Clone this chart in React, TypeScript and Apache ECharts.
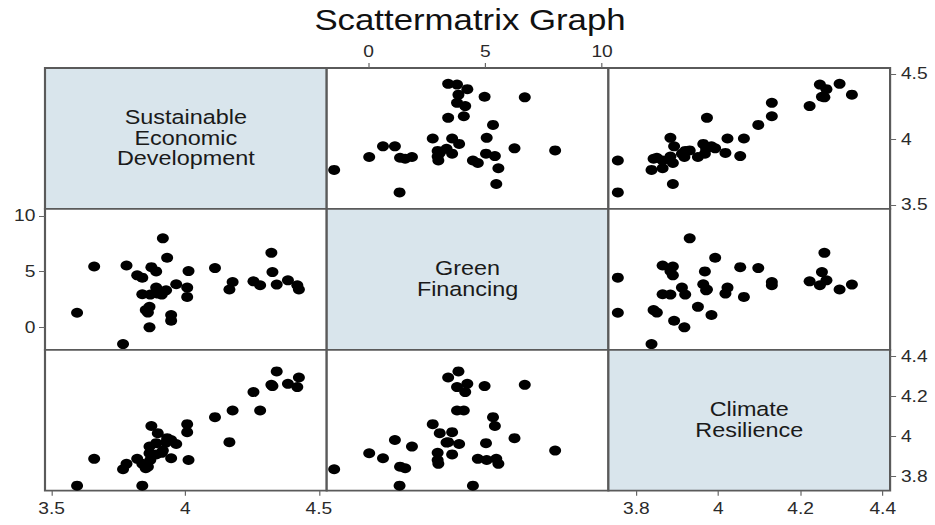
import React, { useEffect, useRef } from "react";
import * as echarts from "echarts";

// Observations (parallel lists)
const SED = [3.595, 3.659, 3.767, 3.780, 3.820, 3.839, 3.839, 3.852, 3.860, 3.866, 3.866, 3.873, 3.869, 3.891, 3.891, 3.897, 3.916, 3.932, 3.912, 3.928, 3.947, 3.947, 3.966, 4.007, 4.007, 4.012, 4.111, 4.165, 4.177, 4.255, 4.280, 4.322, 4.326, 4.342, 4.384, 4.419, 4.425];
const GF = [1.33, 5.47, -1.47, 5.56, 4.68, 4.47, 2.99, 1.57, 1.35, 1.86, 0.03, 5.41, 2.96, 5.03, 3.58, 3.05, 7.99, 6.25, 2.96, 3.34, 1.13, 0.62, 3.88, 3.58, 2.75, 5.06, 5.33, 3.41, 4.08, 4.14, 3.79, 6.69, 4.97, 3.85, 4.23, 3.79, 3.41];
const CR = [3.755, 3.889, 3.837, 3.864, 3.889, 3.755, 3.864, 3.842, 3.850, 3.950, 3.917, 4.053, 3.883, 3.967, 3.911, 4.017, 3.930, 3.992, 3.919, 3.970, 3.983, 3.892, 3.963, 4.022, 4.062, 3.883, 4.097, 3.972, 4.130, 4.222, 4.130, 4.258, 4.252, 4.325, 4.263, 4.247, 4.295];

const VAR_LABELS = ["Sustainable\nEconomic\nDevelopment", "Green\nFinancing", "Climate\nResilience"];
const SED_TICKS = [3.5, 4, 4.5];
const GF_TICKS = [0, 5, 10];
const CR_TICKS = [3.8, 4, 4.2, 4.4];
const TITLE = "Scattermatrix Graph";

const VARS = [SED, GF, CR];
const TICKS = [SED_TICKS, GF_TICKS, CR_TICKS];
const X_RANGE = [[3.475, 4.529], [-1.79, 10.27], [3.732, 4.418]];
const Y_RANGE = [[3.469, 4.546], [-1.98, 10.62], [3.73, 4.433]];

const S = 1.2; // horizontal stretch of the reference
const W = 935 / S;
const H = 525;
const LEFT0 = 45 / S;
const COLW = 281.7 / S;
const TOP0 = 68;
const ROWH = 140.9;
const FONT = "'Liberation Sans', Arial, sans-serif";

// which axes show ticks/labels: key "row,col"
const X_SHOWN: Record<string, "top" | "bottom"> = { "0,1": "top", "2,0": "bottom", "2,2": "bottom" };
const Y_SHOWN: Record<string, "left" | "right"> = { "0,2": "right", "1,0": "left", "2,2": "right" };

export default function App() {
  const ref = useRef<HTMLDivElement>(null);
  useEffect(() => {
    if (!ref.current) return;
    const chart = echarts.init(ref.current, undefined, { renderer: "svg" });
    const grids: any[] = [];
    const xAxes: any[] = [];
    const yAxes: any[] = [];
    const series: any[] = [];
    const graphics: any[] = [];
    const labelStyle = { fontSize: 16, color: "#2a2a2a", fontFamily: FONT };
    const tickStyle = { color: "#666", width: 1 };
    for (let i = 0; i < 3; i++) {
      for (let j = 0; j < 3; j++) {
        const idx = i * 3 + j;
        const diag = i === j;
        grids.push({
          left: LEFT0 + j * COLW,
          top: TOP0 + i * ROWH,
          width: COLW,
          height: ROWH,
          show: true,
          backgroundColor: diag ? "#d9e5ec" : "#ffffff",
          borderColor: "#5a5a5a",
          borderWidth: 1.8,
          containLabel: false,
          outerBoundsMode: "none",
        });
        const xk = `${i},${j}`;
        const xPos = X_SHOWN[xk];
        const yPos = Y_SHOWN[xk];
        xAxes.push({
          gridIndex: idx,
          type: "value",
          min: X_RANGE[j][0],
          max: X_RANGE[j][1],
          position: xPos || "bottom",
          axisLine: { show: false },
          splitLine: { show: false },
          axisTick: { show: !!xPos, customValues: TICKS[j], length: 5, lineStyle: tickStyle },
          axisLabel: { show: !!xPos, customValues: TICKS[j], margin: xPos === "top" ? 8 : 10, ...labelStyle },
        });
        yAxes.push({
          gridIndex: idx,
          type: "value",
          min: Y_RANGE[i][0],
          max: Y_RANGE[i][1],
          position: yPos || "left",
          axisLine: { show: false },
          splitLine: { show: false },
          axisTick: { show: !!yPos, customValues: TICKS[i], length: 5, lineStyle: tickStyle },
          axisLabel: { show: !!yPos, customValues: TICKS[i], margin: yPos === "right" ? 9 : 8, ...labelStyle },
        });
        if (diag) {
          graphics.push({
            type: "text",
            x: LEFT0 + j * COLW + COLW / 2,
            y: TOP0 + i * ROWH + ROWH / 2,
            style: {
              text: VAR_LABELS[i],
              fontSize: 19.5,
              lineHeight: 20.5,
              fontFamily: FONT,
              fill: "#1a1a1a",
              align: "center",
              verticalAlign: "middle",
            },
          });
        } else {
          const xs = VARS[j];
          const ys = VARS[i];
          series.push({
            type: "scatter",
            xAxisIndex: idx,
            yAxisIndex: idx,
            symbol: "circle",
            symbolSize: 10,
            itemStyle: { color: "#000", opacity: 1 },
            data: xs.map((v, k) => [v, ys[k]]),
          });
        }
      }
    }
    graphics.push({
      type: "text",
      x: 470 / S,
      y: 20,
      style: {
        text: TITLE,
        fontSize: 29,
        fontFamily: FONT,
        fill: "#111",
        align: "center",
        verticalAlign: "middle",
      },
    });
    chart.setOption({
      animation: false,
      backgroundColor: "#ffffff",
      grid: grids,
      xAxis: xAxes,
      yAxis: yAxes,
      series,
      graphic: graphics,
    });
    return () => chart.dispose();
  }, []);
  return (
    <div
      ref={ref}
      style={{
        position: "fixed",
        left: 0,
        top: 0,
        width: W,
        height: H,
        transform: `scaleX(${S})`,
        transformOrigin: "0 0",
        background: "#fff",
      }}
    />
  );
}
